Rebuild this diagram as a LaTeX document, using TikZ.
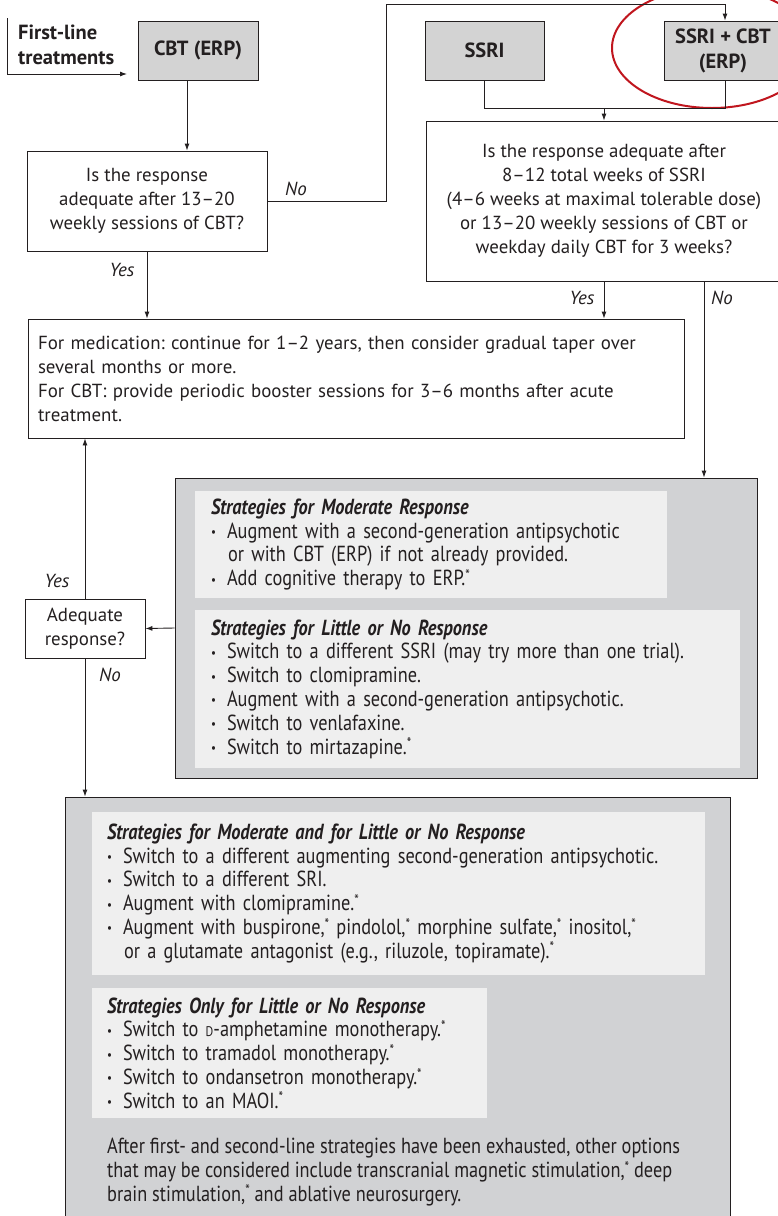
\documentclass[tikz,border=0pt]{standalone}
\usepackage{fontspec}
\usepackage{graphicx}
\setmainfont{PT Sans}
\newfontfamily\condf{PT Sans}[FakeStretch=0.84]
\usetikzlibrary{arrows.meta,calc}
\definecolor{ink}{HTML}{231F20}
\definecolor{boxgray}{HTML}{D3D3D3}
\definecolor{panelgray}{HTML}{D1D2D4}
\definecolor{panellight}{HTML}{EFEFEF}
\definecolor{circred}{HTML}{C0161E}
\newcommand\mf{\fontsize{18.9}{24}\selectfont}
\newcommand\bfx{\fontsize{20.5}{25}\selectfont\bfseries}
\newcommand\cf{\condf\fontsize{21.8}{23.8}\selectfont}
\newcommand\bl{\makebox[16pt][l]{\raisebox{0.15ex}{\scalebox{0.6}{•}}}}
\newcommand\ind{\hspace*{17pt}}
\newcommand\st{\raisebox{0.5ex}{\scalebox{0.7}{*}}}
\frenchspacing
\begin{document}
\frenchspacing
\begin{tikzpicture}[x=1pt,y=-1pt, font=\mf, text=ink,
 box/.style={draw=ink, line width=0.9pt, inner sep=0pt, align=center},
 gbox/.style={box, fill=boxgray, font=\bfx},
 arr/.style={draw=ink, line width=0.9pt, -{Latex[length=7pt,width=5pt]}},
 ln/.style={draw=ink, line width=0.9pt},
 lab/.style={font=\mf\itshape, inner sep=0pt},
 panel/.style={draw=ink, line width=0.9pt, fill=panelgray, inner sep=0pt},
 sub/.style={fill=panellight, inner sep=0pt, inner xsep=16pt, align=left, font=\cf},
]
\useasboundingbox (0,0) rectangle (778,1216);

% top row
\node[anchor=north west, align=left, font=\bfx, inner sep=0pt] (flt) at (18,25) {First-line\\treatments};
\node[gbox, minimum width=120pt, minimum height=59pt] (cbt) at (198,50.5) {CBT (ERP)};
\node[gbox, minimum width=119pt, minimum height=59pt] (ssri) at (484.5,50.5) {SSRI};
\node[gbox, minimum width=118pt, minimum height=59pt] (combo) at (723,50.5) {SSRI + CBT\\(ERP)};
\draw[circred, line width=2pt] (712,48) ellipse [x radius=100pt, y radius=60pt];

% questions
\node[box, minimum width=240pt, minimum height=100pt] (q1) at (147,201)
 {Is the response\\adequate after 13--20\\weekly sessions of CBT?};
\node[box, minimum width=356pt, minimum height=160pt] (q2) at (604,201)
 {Is the response adequate after\\8--12 total weeks of SSRI\\(4--6 weeks at maximal tolerable dose)\\or 13--20 weekly sessions of CBT or\\weekday daily CBT for 3 weeks?};

\node[box, minimum width=656pt, minimum height=119pt, text width=636pt, inner xsep=10pt, align=left] (cont) at (356,378.5)
 {For medication: continue for 1--2 years, then consider gradual taper over\\several months or more.\\For CBT: provide periodic booster sessions for 3--6 months after acute\\treatment.};

\node[box, minimum width=120pt, minimum height=59pt] (adq) at (85,628.5) {Adequate\\response?};

% second-line panel
\node[panel, minimum width=582pt, minimum height=300pt] (g1) at (466,628) {};
\node[sub, minimum width=472pt, minimum height=107pt, text width=440pt] (pA) at (431,544.5)
 {{\bfseries\itshape Strategies for Moderate Response}\\
  \bl Augment with a second-generation antipsychotic\\
  \ind or with CBT (ERP) if not already provided.\\
  \bl Add cognitive therapy to ERP.\st};
\node[sub, minimum width=545pt, minimum height=158pt, text width=513pt] (pB) at (467.5,689)
 {{\bfseries\itshape Strategies for Little or No Response}\\
  \bl Switch to a different SSRI (may try more than one trial).\\
  \bl Switch to clomipramine.\\
  \bl Augment with a second-generation antipsychotic.\\
  \bl Switch to venlafaxine.\\
  \bl Switch to mirtazapine.\st};

% third-line panel
\node[panel, minimum width=665pt, minimum height=433pt] (g2) at (397.5,1013.5) {};
\node[sub, minimum width=613pt, minimum height=163pt, text width=583pt, inner xsep=15pt] (pC) at (398.5,893.5)
 {{\bfseries\itshape Strategies for Moderate and for Little or No Response}\\
  \bl Switch to a different augmenting second-generation antipsychotic.\\
  \bl Switch to a different SRI.\\
  \bl Augment with clomipramine.\st\\
  \bl Augment with buspirone,\st{} pindolol,\st{} morphine sulfate,\st{} inositol,\st\\
  \ind or a glutamate antagonist (e.g., riluzole, topiramate).\st};
\node[sub, minimum width=395pt, minimum height=130pt, text width=365pt, inner xsep=15pt] (pD) at (289.5,1053)
 {{\bfseries\itshape Strategies Only for Little or No Response}\\
  \bl Switch to {\fontsize{14}{14}\selectfont D}-amphetamine monotherapy.\st\\
  \bl Switch to tramadol monotherapy.\st\\
  \bl Switch to ondansetron monotherapy.\st\\
  \bl Switch to an MAOI.\st};
\node[anchor=north west, align=left, font=\cf, inner sep=0pt] (fin) at (107,1138)
 {After first- and second-line strategies have been exhausted, other options\\
  that may be considered include transcranial magnetic stimulation,\st{} deep\\
  brain stimulation,\st{} and ablative neurosurgery.};

% connectors
\coordinate (fl1) at (7,18);
\coordinate (fl2) at (127,74);
\draw[arr] (fl1) |- (fl2);
\draw[arr] ([xshift=-11pt]cbt.south) -- ([xshift=-11pt]cbt.south |- q1.north);
\coordinate (n1) at (386,4);
\draw[arr] (q1.east) -| (n1) -| ([xshift=2pt]combo.north);
\node[lab] (lno1) at (296,189) {No};
\coordinate (m1) at (604,108);
\draw[ln] (ssri.south) |- (m1);
\draw[ln] ([xshift=2pt]combo.south) |- (m1);
\draw[arr] (m1) -- (q2.north);
\draw[arr] (q2.south) -- (q2.south |- cont.north);
\node[lab] (lyes2) at (582,298) {Yes};
\draw[arr] ([xshift=100pt]q2.south) -- ([xshift=100pt]q2.south |- g1.north);
\node[lab] (lno2) at (722,298) {No};
\draw[arr] (q1.south) -- (q1.south |- cont.north);
\node[lab] (lyes1) at (122,270) {Yes};
\draw[arr] (adq.north) -- (adq.north |- cont.south);
\node[lab] (lyes3) at (57,581) {Yes};
\draw[arr] (adq.south) -- (adq.south |- g2.north);
\node[lab] (lno3) at (110,675) {No};
\draw[arr] (g1.west) -- (adq.east);
\end{tikzpicture}
\end{document}
